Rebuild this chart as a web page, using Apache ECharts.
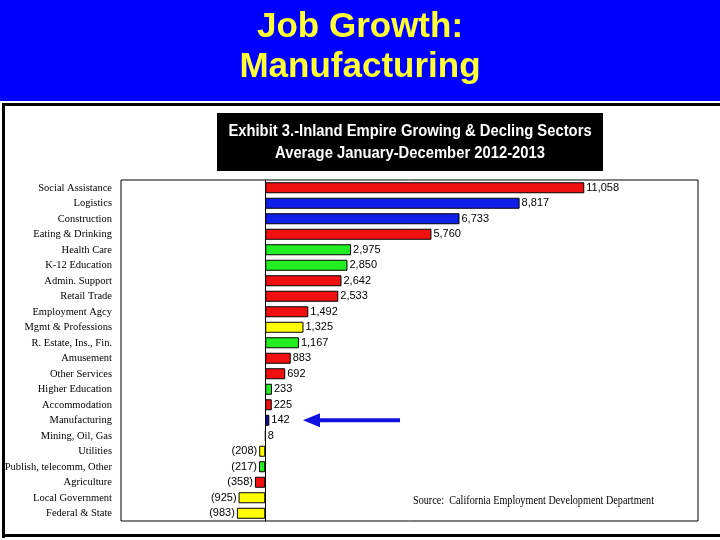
<!DOCTYPE html>
<html><head><meta charset="utf-8">
<script src="https://cdn.jsdelivr.net/npm/echarts@6/dist/echarts.min.js"></script>
<style>html,body{margin:0;padding:0;background:#fff}#c{width:720px;height:540px}</style>
</head><body><div id="c"></div>
<script>
var categories = ['Social Assistance','Logistics','Construction','Eating & Drinking','Health Care','K-12 Education','Admin. Support','Retail Trade','Employment Agcy','Mgmt & Professions','R. Estate, Ins., Fin.','Amusement','Other Services','Higher Education','Accommodation','Manufacturing','Mining, Oil, Gas','Utilities','Publish, telecomm, Other','Agriculture','Local Government','Federal & State'];
var values = [11058, 8817, 6733, 5760, 2975, 2850, 2642, 2533, 1492, 1325, 1167, 883, 692, 233, 225, 142, 8, -208, -217, -358, -925, -983];
var sectorColor = ['red','blue','blue','red','green','green','red','red','red','yellow','green','red','red','green','red','navy','yellow','yellow','green','red','yellow','yellow'];

var palette = {red:'#f01010', blue:'#1020e8', navy:'#1010a0', green:'#22ee22', yellow:'#ffff00'};
function fmt(v){ var s = Math.abs(v).toLocaleString('en-US'); return v < 0 ? '(' + s + ')' : s; }

var data = values.map(function(v,i){
  return {value:v, itemStyle:{color:palette[sectorColor[i]]}, label:{position: v<0?'left':'right'}};
});

var chart = echarts.init(document.getElementById('c'));
var option = {
  backgroundColor:'#fff',
  animation:false,
  grid:{left:121, right:22, top:180, bottom:19, show:true, borderColor:'#000', borderWidth:1, backgroundColor:'transparent'},
  xAxis:{type:'value', min:-5000, max:15000, show:true, axisLabel:{show:false}, axisTick:{show:false}, axisLine:{show:false}, splitLine:{show:false}},
  yAxis:{type:'category', inverse:true, data:categories,
    axisLine:{show:true, onZero:true, lineStyle:{color:'#000', width:1}},
    axisTick:{show:false},
    axisLabel:{fontFamily:'Liberation Serif', fontSize:10.5, color:'#000', margin:9, align:'right'}
  },
  series:[{type:'bar', data:data, barWidth:11,
    itemStyle:{borderColor:'#000', borderWidth:1},
    label:{show:true, fontFamily:'Liberation Sans, Arial', fontSize:11, color:'#000', distance:2, formatter:function(p){return fmt(p.value);}}
  }]
};
chart.setOption(option);

var py = chart.convertToPixel({yAxisIndex:0}, 'Manufacturing');
chart.setOption({graphic:[
  {type:'rect', shape:{x:0,y:0,width:720,height:101}, style:{fill:'#0000ff'}, silent:true},
  {type:'text', left:'center', top:10, style:{text:'Job Growth:', fill:'#ffff33', font:'bold 35px "Liberation Sans", Arial'}},
  {type:'text', left:'center', top:50, style:{text:'Manufacturing', fill:'#ffff33', font:'bold 35px "Liberation Sans", Arial'}},
  {type:'rect', shape:{x:2,y:103,width:718,height:3}, style:{fill:'#000'}},
  {type:'rect', shape:{x:2,y:103,width:3,height:435}, style:{fill:'#000'}},
  {type:'rect', shape:{x:2,y:534,width:718,height:3}, style:{fill:'#000'}},
  {type:'rect', shape:{x:217,y:113,width:386,height:58}, style:{fill:'#000'}},
  {type:'group', x:410, y:131, scaleX:0.87, children:[
    {type:'text', x:0, y:0, style:{text:'Exhibit 3.-Inland Empire Growing & Decling Sectors', fill:'#fff', font:'bold 17px "Liberation Sans", Arial', align:'center', verticalAlign:'middle'}}
  ]},
  {type:'group', x:410, y:153, scaleX:0.87, children:[
    {type:'text', x:0, y:0, style:{text:'Average January-December 2012-2013', fill:'#fff', font:'bold 17px "Liberation Sans", Arial', align:'center', verticalAlign:'middle'}}
  ]},
  {type:'group', x:413, y:501, scaleX:0.85, children:[
    {type:'text', x:0, y:0, style:{text:'Source:  California Employment Development Department', fill:'#000', font:'12px "Liberation Serif"', align:'left', verticalAlign:'middle'}}
  ]},
  {type:'line', shape:{x1:316,y1:py,x2:400,y2:py}, style:{stroke:'#1010e0', lineWidth:4}},
  {type:'polygon', shape:{points:[[303,py],[320,py-7],[320,py+7]]}, style:{fill:'#1010e0'}}
]});
</script></body></html>
